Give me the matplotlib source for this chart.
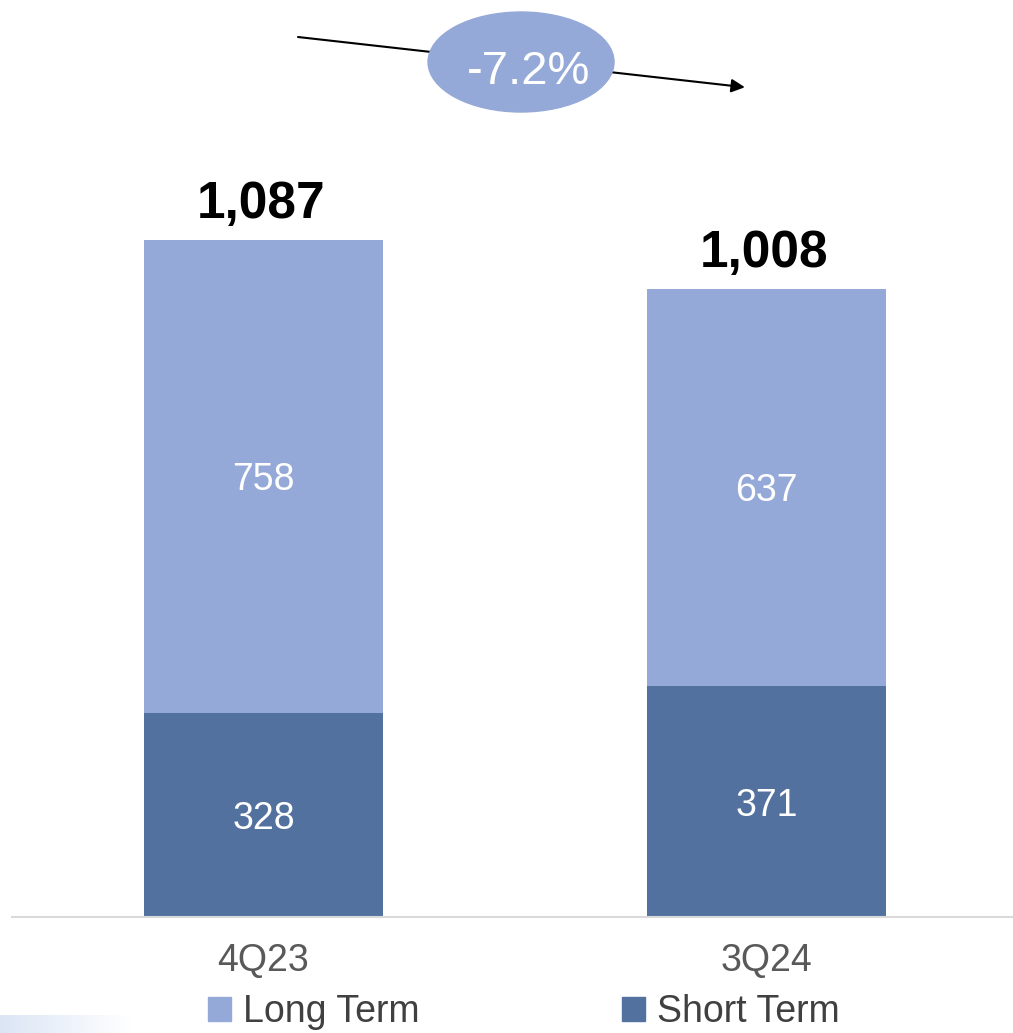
import numpy as np
import matplotlib
matplotlib.use('Agg')
import matplotlib.pyplot as plt
from matplotlib.patches import Ellipse, Patch

plt.rcParams['font.family'] = ['Liberation Sans', 'DejaVu Sans']

# data
quarters = ['4Q23', '3Q24']
short_term = [328, 371]
long_term = [758, 637]
totals = ['1,087', '1,008']
change_label = '-7.2%'

light = '#95a9d8'
dark = '#52719f'

fig = plt.figure(figsize=(10.13, 10.33), dpi=100)

# faint gradient strip, bottom left
gax = fig.add_axes([0, 0, 130 / 1013, 18 / 1033])
grad = np.linspace(0, 1, 256).reshape(1, -1)
c0 = np.array([0.86, 0.90, 0.96])
img = c0[None, None, :] * (1 - grad[..., None]) + np.ones(3)[None, None, :] * grad[..., None]
gax.imshow(img, aspect='auto')
gax.axis('off')

ax = fig.add_axes([12 / 1013, 116 / 1033, 1001 / 1013, 917 / 1033])
x = np.arange(len(quarters))
w = 239 / 503
ax.bar(x, short_term, w, color=dark, label='Short Term', zorder=2)
ax.bar(x, long_term, w, bottom=short_term, color=light, label='Long Term', zorder=2)

ax.set_xlim(-0.5, -0.5 + 1001 / 503)
ax.set_ylim(0, 917 / 0.6234)

for i in range(len(quarters)):
    ax.annotate(str(short_term[i]), (x[i], short_term[i] / 2), xytext=(0, -3),
                textcoords='offset points', ha='center', va='center',
                color='white', fontsize=27)
    ax.annotate(str(long_term[i]), (x[i], short_term[i] + long_term[i] / 2),
                xytext=(0, -3), textcoords='offset points', ha='center',
                va='center', color='white', fontsize=27)
    ax.annotate(totals[i], (x[i], short_term[i] + long_term[i]), xytext=(-2, 8),
                textcoords='offset points', ha='center', va='bottom',
                fontsize=37, fontweight='bold', color='black')

# change arrow + bubble
ax.annotate('', xy=(0.957, 1331), xytext=(0.0686, 1411.6),
            arrowprops=dict(arrowstyle='-|>', color='black', lw=1.5, mutation_scale=20,
                            shrinkA=0, shrinkB=0),
            annotation_clip=False, zorder=3)
ell = Ellipse((0.512, 1371.5), 186 / 503, 100 / 0.6234, color=light, zorder=4, clip_on=False)
ax.add_patch(ell)
ax.text(0.526, 1356, change_label, ha='center', va='center', color='white',
        fontsize=34, zorder=5)

ax.set_xticks(x, quarters)
ax.tick_params(axis='x', length=0, pad=19, labelsize=27, labelcolor='#595959')
ax.set_yticks([])
for s in ['top', 'left', 'right']:
    ax.spines[s].set_visible(False)
ax.spines['bottom'].set_color('#d9d9d9')
ax.spines['bottom'].set_linewidth(1.5)

handles = [Patch(color=light), Patch(color=dark)]
fig.legend(handles, ['Long Term', 'Short Term'], loc='center',
           bbox_to_anchor=(524 / 1013, 21 / 1033), ncol=2, frameon=False,
           fontsize=27, labelcolor='#404040', handlelength=0.6, handleheight=0.6,
           handletextpad=0.33, columnspacing=5.4, borderpad=0, borderaxespad=0)

fig.savefig('out.png', dpi=100)
